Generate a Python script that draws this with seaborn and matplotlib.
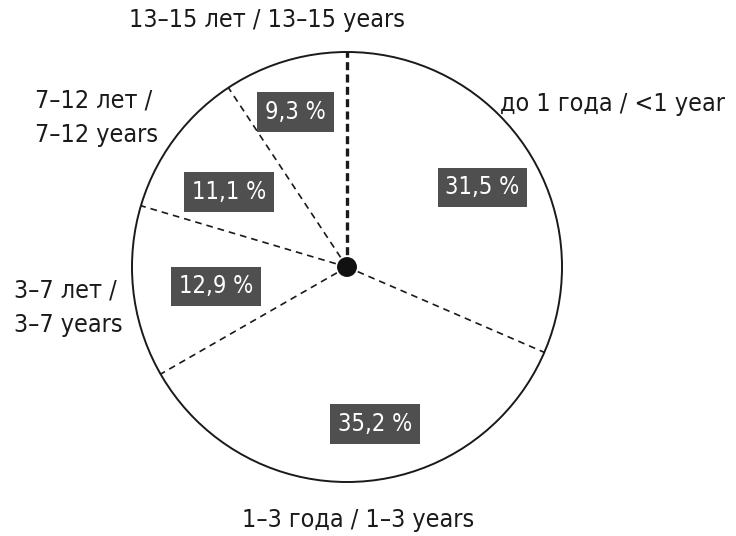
import numpy as np
import matplotlib
matplotlib.use("Agg")
import matplotlib.pyplot as plt
import seaborn as sns

# Data
categories = ["до 1 года / <1 year", "1–3 года / 1–3 years", "3–7 лет /\n3–7 years",
              "7–12 лет /\n7–12 years", "13–15 лет / 13–15 years"]
shares = [31.5, 35.2, 12.9, 11.1, 9.3]
pct_labels = ["31,5 %", "35,2 %", "12,9 %", "11,1 %", "9,3 %"]

sns.set_style("white")
plt.rcParams['font.family'] = ['DejaVu Sans']
plt.rcParams['font.stretch'] = 'condensed'

fig = plt.figure(figsize=(7.36, 5.36), dpi=100)
ax = fig.add_axes([0, 0, 1, 1])
ax.set_axis_off()

# pie: white wedges, no edges (outline drawn separately)
wedges, _ = ax.pie(shares, startangle=90, counterclock=False, radius=1,
                   colors=["white"] * len(shares),
                   wedgeprops=dict(edgecolor="none", linewidth=0))

# outer circle
ax.add_patch(plt.Circle((0, 0), 1, fill=False, edgecolor="#1a1a1a", lw=1.4, zorder=3))

# dashed separators from the wedge boundaries
for i, w in enumerate(wedges):
    ang = np.deg2rad(w.theta2)
    if i == 0:
        lw, dash = 2.4, (2.4, 1.3)
    else:
        lw, dash = 1.2, (4.0, 3.0)
    ax.plot([0, np.cos(ang)], [0, np.sin(ang)], color="#1a1a1a", lw=lw,
            linestyle=(0, dash), zorder=3)

# center dot
ax.add_patch(plt.Circle((0, 0), 0.043, color="#111111", zorder=5))

# percentage boxes (layout positions in data units)
pct_pos = [(0.63, 0.37), (0.13, -0.73), (-0.61, -0.09), (-0.55, 0.35), (-0.24, 0.72)]
for txt, (x, y) in zip(pct_labels, pct_pos):
    ax.text(x, y, txt, ha="center", va="center", color="white", fontsize=17,
            bbox=dict(boxstyle="square,pad=0.33", facecolor="#4f4f4f", edgecolor="none"),
            zorder=6)

# category labels
cat_pos = [(1.758, 0.76, "right"), (0.05, -1.175, "center"), (-1.55, -0.19, "left"),
           (-1.45, 0.693, "left"), (-0.37, 1.15, "center")]
for txt, (x, y, ha) in zip(categories, cat_pos):
    ax.text(x, y, txt, ha=ha, va="center", color="#1a1a1a", fontsize=18,
            linespacing=1.55)

ax.set_aspect("equal")
ax.set_xlim(-347 / 215, (736 - 347) / 215)
ax.set_ylim(-(536 - 267) / 215, 267 / 215)

plt.savefig("out.png", dpi=100)
